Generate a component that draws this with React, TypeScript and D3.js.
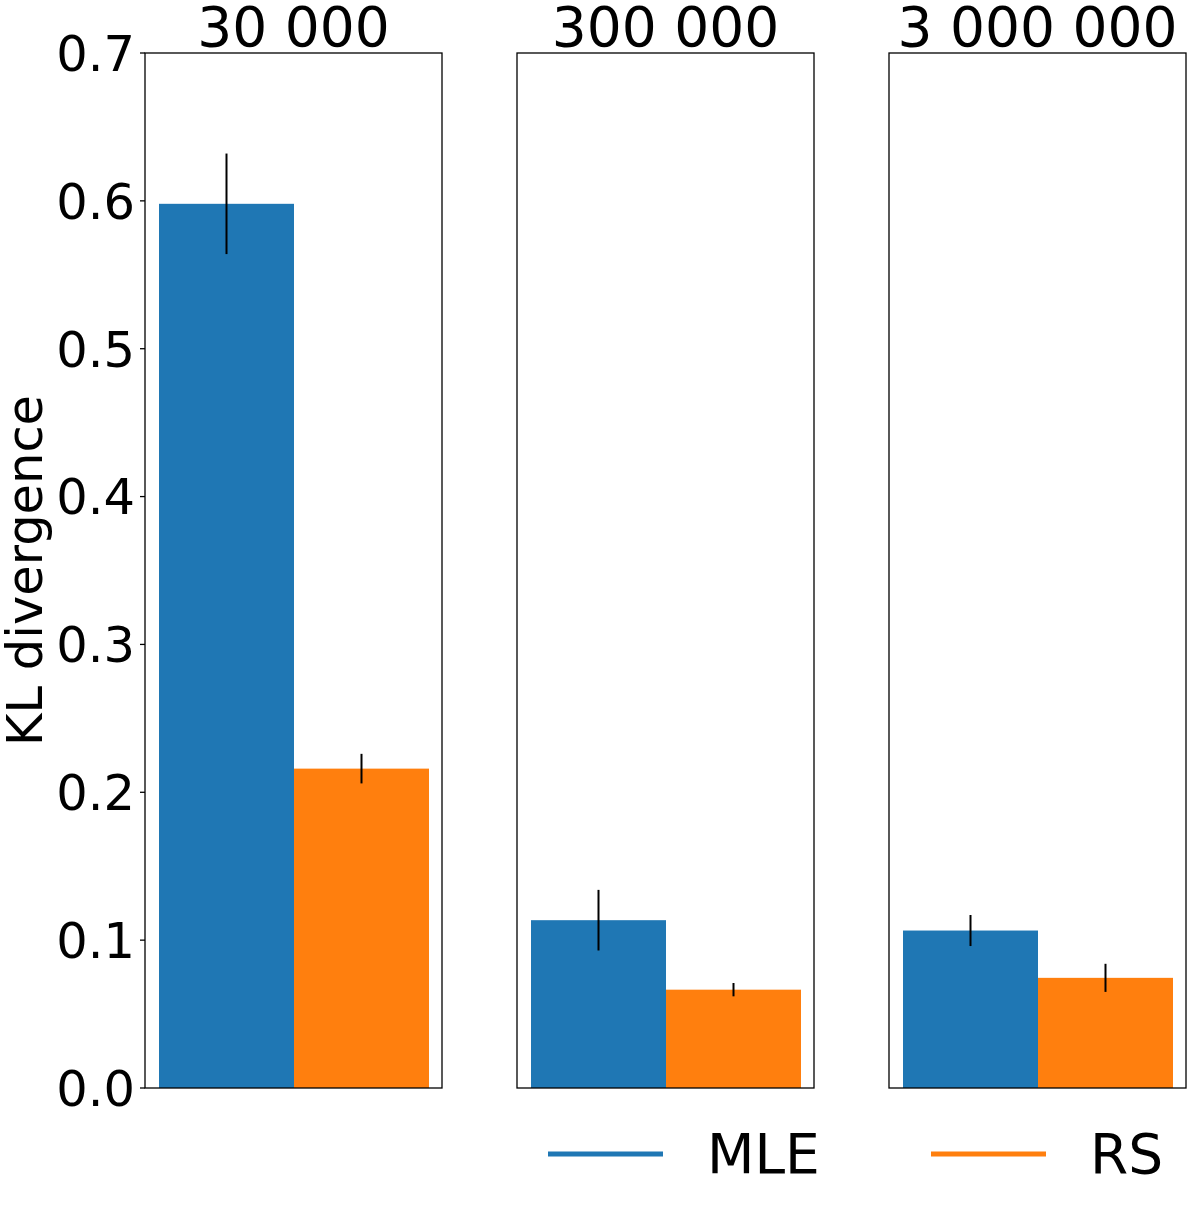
import React from 'react';
import * as d3 from 'd3';

// sample sizes, one panel each
const panels = ['30 000', '300 000', '3 000 000'];
const methods = ['MLE', 'RS'];
const colors = ['#1f77b4', '#ff7f0e'];

// KL divergence per panel, and error bar ends
const mleValues = [0.598, 0.1135, 0.1065];
const mleLow = [0.564, 0.093, 0.096];
const mleHigh = [0.632, 0.134, 0.117];
const rsValues = [0.216, 0.0665, 0.0745];
const rsLow = [0.206, 0.062, 0.065];
const rsHigh = [0.226, 0.071, 0.084];

const yTicks = [0, 0.1, 0.2, 0.3, 0.4, 0.5, 0.6, 0.7];

const W = 1194;
const H = 1207;
const top = 53;
const bottom = 1088;
const panelLeft = [145, 517, 889];
const panelW = 297;
const font = 'DejaVu Sans, sans-serif';

export default function App() {
  const y = d3.scaleLinear().domain([0, 0.7]).range([bottom, top]);
  const series = [
    { values: mleValues, low: mleLow, high: mleHigh },
    { values: rsValues, low: rsLow, high: rsHigh },
  ];

  return (
    <div style={{ position: 'absolute', left: 0, top: 0 }}>
      <svg width={W} height={H} style={{ display: 'block', background: '#fff' }}>
        {panels.map((title, p) => {
          const x0 = panelLeft[p];
          const x = d3
            .scaleBand<string>()
            .domain(methods)
            .range([x0 + 14, x0 + panelW - 13])
            .padding(0);
          return (
            <g key={title}>
              {series.map((s, i) => {
                const m = methods[i];
                const bx = x(m)!;
                const cx = bx + x.bandwidth() / 2;
                return (
                  <g key={m}>
                    <rect
                      x={bx}
                      y={y(s.values[p])}
                      width={x.bandwidth()}
                      height={y(0) - y(s.values[p])}
                      fill={colors[i]}
                    />
                    <line
                      x1={cx}
                      x2={cx}
                      y1={y(s.low[p])}
                      y2={y(s.high[p])}
                      stroke="#000"
                      strokeWidth={2}
                    />
                  </g>
                );
              })}
              <rect
                x={x0}
                y={top}
                width={panelW}
                height={bottom - top}
                fill="none"
                stroke="#000"
                strokeWidth={1.3}
              />
              <text
                x={x0 + panelW / 2}
                y={top - 7}
                textAnchor="middle"
                fontFamily={font}
                fontSize={55}
              >
                {title}
              </text>
            </g>
          );
        })}

        {/* y axis on first panel */}
        {yTicks.map((t) => (
          <g key={t} transform={`translate(${panelLeft[0]},${y(t)})`}>
            <line x1={-5} x2={0} stroke="#000" strokeWidth={1.3} />
            <text
              x={-10}
              dy="0.36em"
              textAnchor="end"
              fontFamily={font}
              fontSize={49.5}
            >
              {t.toFixed(1)}
            </text>
          </g>
        ))}
        <text
          transform={`translate(42,${(top + bottom) / 2}) rotate(-90)`}
          textAnchor="middle"
          fontFamily={font}
          fontSize={49.5}
        >
          KL divergence
        </text>

        {/* legend */}
        {methods.map((m, i) => {
          const lx = 548 + i * 383;
          return (
            <g key={m}>
              <line x1={lx} x2={lx + 115} y1={1154} y2={1154} stroke={colors[i]} strokeWidth={5} />
              <text x={lx + 159} y={1173} fontFamily={font} fontSize={55}>
                {m}
              </text>
            </g>
          );
        })}
      </svg>
    </div>
  );
}
